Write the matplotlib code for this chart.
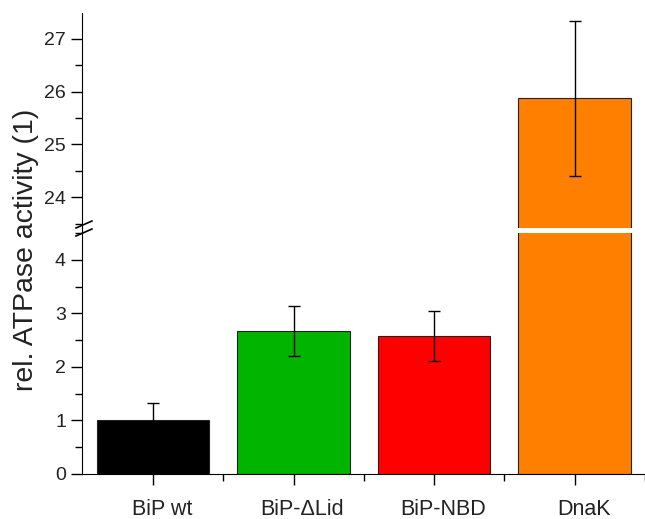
import matplotlib
matplotlib.use("Agg")
import matplotlib.pyplot as plt
import matplotlib.transforms as mtransforms
from matplotlib.lines import Line2D
from matplotlib.ticker import MultipleLocator

plt.rcParams['font.family'] = ['Liberation Sans', 'DejaVu Sans']

categories = ["BiP wt", "BiP-\u0394Lid", "BiP-NBD", "DnaK"]
activity = [1.0, 2.67, 2.58, 25.87]
errors = [0.32, 0.47, 0.47, 1.46]
colors = ["#000000", "#00b400", "#ff0000", "#ff8000"]

fig = plt.figure(figsize=(6.45, 5.19), dpi=100)
ax_lo = fig.add_axes([0.127, 0.087, 0.873, 0.464])
ax_hi = fig.add_axes([0.127, 0.561, 0.873, 0.414], sharex=ax_lo)

x = range(len(categories))
for ax in (ax_lo, ax_hi):
    ax.bar(x, activity, width=0.8, color=colors, edgecolor="#222222", linewidth=0.8)
    ax.errorbar(x, activity, yerr=errors, fmt="none", ecolor="black",
                elinewidth=1, capsize=4, capthick=1)
    ax.spines["right"].set_visible(False)
    ax.spines["top"].set_visible(False)
    ax.yaxis.set_minor_locator(MultipleLocator(0.5))
    ax.tick_params(axis="y", which="major", direction="out", length=8, width=1,
                   labelsize=14)
    ax.tick_params(axis="y", which="minor", direction="out", length=5, width=1)

ax_lo.set_ylim(0, 4.5)
ax_lo.set_yticks([0, 1, 2, 3, 4])
ax_hi.set_ylim(23.42, 27.49)
ax_hi.set_yticks([24, 25, 26, 27])

ax_hi.spines["bottom"].set_visible(False)
ax_hi.tick_params(axis="x", which="both", bottom=False, labelbottom=False)

ax_lo.set_xlim(-0.505, 3.44)
ax_lo.set_xticks(list(x))
ax_lo.set_xticklabels(categories)
ax_lo.set_xticks([i + 0.5 for i in x], minor=True)
ax_lo.tick_params(axis="x", which="major", direction="out", length=8, width=1,
                  labelsize=15.5, pad=10)
ax_lo.tick_params(axis="x", which="minor", direction="out", length=5, width=1)

shift = mtransforms.ScaledTranslation(9 / 100, 0, fig.dpi_scale_trans)
for lbl in ax_lo.get_xticklabels():
    lbl.set_transform(lbl.get_transform() + shift)
for lbl in ax_lo.get_xticklabels() + ax_lo.get_yticklabels() + ax_hi.get_yticklabels():
    lbl.set_color("#222222")

# break marks on the y axis, with the axis line kept continuous
W, H = 645, 519
fig.add_artist(Line2D([0.127, 0.127], [0.551, 0.561], color="black", linewidth=0.8))
for y0, y1 in [(228, 221), (236, 229)]:
    fig.add_artist(Line2D([76 / W, 92 / W], [1 - y0 / H, 1 - y1 / H],
                          color="black", linewidth=1.2))

fig.text(0.040, 0.518, "rel. ATPase activity (1)", rotation=90,
         ha="center", va="center", fontsize=20.5, color="#222222")

fig.savefig("out.png", dpi=100)
